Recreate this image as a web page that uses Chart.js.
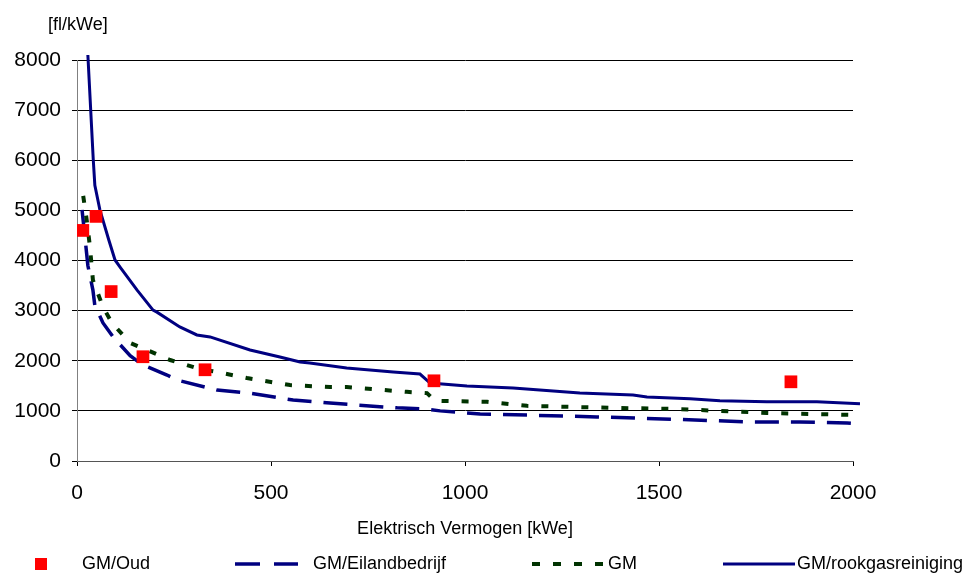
<!DOCTYPE html>
<html>
<head>
<meta charset="utf-8">
<script src="https://cdn.jsdelivr.net/npm/chart.js@4"></script>
<style>
  html, body { margin: 0; padding: 0; background: #fff; }
  #wrap { width: 974px; height: 573px; position: relative; }
</style>
</head>
<body>
<div id="wrap"><canvas id="grafico"></canvas></div>
<script>
// GM/Oud (losse punten)
const oudX = [15, 49, 88, 170, 330, 920, 1840];
const oudY = [4600, 4880, 3380, 2080, 1820, 1600, 1580];

// GM/Eilandbedrijf
const eilandX = [13, 20, 28, 41, 46, 67, 93, 137, 170, 232, 258, 361, 446, 557, 652, 825, 892, 936, 1039, 1340, 1510, 1735, 1863, 1985, 2018];
const eilandY = [5010, 4500, 3900, 3410, 3100, 2755, 2475, 2100, 1915, 1715, 1615, 1415, 1355, 1215, 1155, 1060, 1040, 1000, 940, 880, 840, 780, 780, 760, 740];

// GM
const gmX = [16, 25, 33, 41, 51, 67, 90, 137, 180, 240, 265, 325, 351, 438, 549, 652, 695, 850, 902, 923, 1057, 1160, 1381, 1536, 1778, 1992];
const gmY = [5290, 4810, 4300, 3610, 3400, 3075, 2755, 2355, 2215, 2015, 1955, 1815, 1790, 1655, 1515, 1475, 1475, 1380, 1355, 1200, 1180, 1100, 1060, 1040, 960, 920];

// GM/rookgasreiniging
const rookX = [28, 42, 46, 59, 82, 98, 111, 155, 196, 206, 265, 309, 343, 446, 523, 575, 600, 695, 815, 884, 910, 1005, 1124, 1296, 1433, 1469, 1580, 1657, 1778, 1907, 2018];
const rookY = [8100, 6000, 5500, 5010, 4410, 4010, 3870, 3410, 3010, 2970, 2675, 2515, 2475, 2215, 2075, 1975, 1955, 1855, 1775, 1735, 1555, 1495, 1455, 1355, 1315, 1275, 1240, 1200, 1180, 1180, 1140];

const seriesNames = ['GM/Oud', 'GM/Eilandbedrijf', 'GM', 'GM/rookgasreiniging'];
const yTitle = '[fl/kWe]';
const xTitle = 'Elektrisch Vermogen [kWe]';

const FONT = "'Liberation Sans', Arial, sans-serif";

function punten(xs, ys) {
  return xs.map((x, i) => ({ x: x, y: ys[i] }));
}

// y-as titel linksboven
const yTitelPlugin = {
  id: 'yTitel',
  afterDraw(chart) {
    const ctx = chart.ctx;
    ctx.save();
    ctx.font = '18px ' + FONT;
    ctx.fillStyle = '#000';
    ctx.textAlign = 'left';
    ctx.textBaseline = 'middle';
    ctx.fillText(yTitle, chart.chartArea.left - 29, 25);
    ctx.restore();
  }
};

// legenda zoals in Excel, over de hele breedte
const legendaPlugin = {
  id: 'legenda',
  afterDraw(chart) {
    const ctx = chart.ctx;
    const y = 564;
    // [begin staal, eind staal, begin tekst]
    const plekken = [[35, 47, 82], [235, 298, 313], [532, 603, 608], [723, 795, 797]];
    ctx.save();
    ctx.font = '18px ' + FONT;
    chart.data.datasets.forEach((ds, i) => {
      const p = plekken[i];
      if (ds.showLine === false) {
        ctx.fillStyle = ds.backgroundColor;
        ctx.fillRect(p[0], y - 6, p[1] - p[0], 12);
      } else {
        ctx.strokeStyle = ds.borderColor;
        ctx.lineWidth = ds.borderWidth;
        ctx.setLineDash(ds.legendDash || []);
        ctx.beginPath();
        ctx.moveTo(p[0], y);
        ctx.lineTo(p[1], y);
        ctx.stroke();
        ctx.setLineDash([]);
      }
      ctx.fillStyle = '#000';
      ctx.textAlign = 'left';
      ctx.textBaseline = 'middle';
      ctx.fillText(ds.label, p[2], y);
    });
    ctx.restore();
  }
};

Chart.defaults.font.family = FONT;
Chart.defaults.color = '#000';

const ctx = document.getElementById('grafico').getContext('2d');
new Chart(ctx, {
  type: 'scatter',
  data: {
    datasets: [
      {
        label: seriesNames[0],
        data: punten(oudX, oudY),
        showLine: false,
        pointStyle: 'rect',
        pointRadius: 9,
        pointHoverRadius: 9,
        backgroundColor: '#FF0000',
        borderColor: '#FF0000',
        borderWidth: 0,
        order: 0
      },
      {
        label: seriesNames[1],
        data: punten(eilandX, eilandY),
        showLine: true,
        borderColor: '#000080',
        backgroundColor: '#000080',
        borderWidth: 3.5,
        borderDash: [24, 12],
        legendDash: [25, 14],
        pointRadius: 0,
        tension: 0,
        clip: 8,
        order: 3
      },
      {
        label: seriesNames[2],
        data: punten(gmX, gmY),
        showLine: true,
        borderColor: '#003300',
        backgroundColor: '#003300',
        borderWidth: 4,
        borderDash: [7, 13],
        legendDash: [8, 13],
        pointRadius: 0,
        tension: 0,
        clip: 8,
        order: 2
      },
      {
        label: seriesNames[3],
        data: punten(rookX, rookY),
        showLine: true,
        borderColor: '#000080',
        backgroundColor: '#000080',
        borderWidth: 3,
        pointRadius: 0,
        tension: 0,
        clip: 8,
        order: 1
      }
    ]
  },
  options: {
    responsive: true,
    maintainAspectRatio: false,
    animation: false,
    layout: { padding: { top: 60, right: 121, bottom: 32, left: 0 } },
    plugins: {
      legend: { display: false },
      tooltip: { enabled: false }
    },
    scales: {
      x: {
        type: 'linear',
        min: 0,
        max: 2000,
        afterFit: (scale) => { scale.height = 80; },
        ticks: { stepSize: 500, padding: 15, font: { size: 21 }, color: '#000', callback: (v) => String(v) },
        grid: { drawOnChartArea: false, drawTicks: true, tickLength: 5, color: '#000' },
        border: { display: true, color: '#555', width: 1 },
        title: { display: true, text: xTitle, font: { size: 18 }, color: '#000', padding: { top: 4, bottom: 1 } }
      },
      y: {
        min: 0,
        max: 8000,
        afterFit: (scale) => { scale.width = 77; },
        ticks: { stepSize: 1000, padding: 11, font: { size: 21 }, color: '#000', callback: (v) => String(v) },
        grid: { color: '#000', lineWidth: 1, drawTicks: true, tickLength: 5 },
        border: { display: true, color: '#808080', width: 1 }
      }
    }
  },
  plugins: [yTitelPlugin, legendaPlugin]
});
</script>
</body>
</html>
